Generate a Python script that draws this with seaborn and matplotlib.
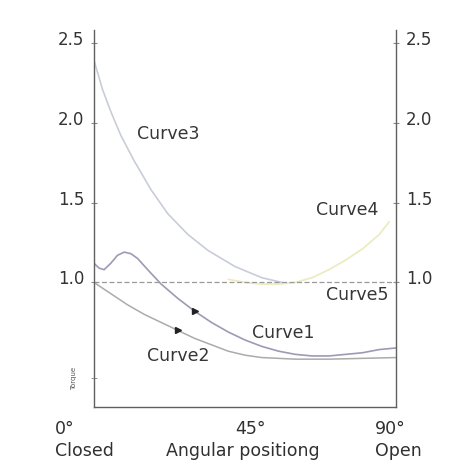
import numpy as np
import seaborn as sns
import matplotlib.pyplot as plt

# curve values (x in degrees, y torque ratio)
c1_x = [0, 1.5, 3, 5, 7, 9, 11, 13, 16, 20, 25, 30, 35, 40, 45, 50, 55, 60, 65, 70, 75, 80, 85, 90]
c1_y = [1.12, 1.09, 1.08, 1.12, 1.17, 1.19, 1.18, 1.15, 1.08, 0.99, 0.90, 0.82, 0.75, 0.69, 0.64, 0.60, 0.57, 0.55, 0.54, 0.54, 0.55, 0.56, 0.58, 0.59]
c2_x = [0, 5, 10, 15, 20, 25, 30, 35, 40, 45, 50, 55, 60, 70, 80, 90]
c2_y = [1.00, 0.93, 0.86, 0.80, 0.75, 0.70, 0.65, 0.61, 0.57, 0.545, 0.53, 0.525, 0.52, 0.52, 0.525, 0.53]
c3_x = [0, 2.5, 5, 8, 12, 17, 22, 28, 34, 42, 50, 56]
c3_y = [2.39, 2.21, 2.07, 1.92, 1.76, 1.58, 1.43, 1.30, 1.20, 1.10, 1.03, 1.00]
c4_x = [40, 45, 50, 55, 60, 65, 70, 75, 80, 85, 88]
c4_y = [1.02, 1.00, 0.99, 0.99, 1.00, 1.03, 1.08, 1.14, 1.21, 1.30, 1.38]
c5_x = [0, 90]
c5_y = [1.0, 1.0]
arrow_x = [30, 25]
arrow_y = [0.82, 0.70]

yticks = [1.0, 1.5, 2.0, 2.5]
x_top = ["0°", "45°", "90°"]
x_bottom = ["Closed", "Angular positiong", "Open"]

sns.set_style("white")
plt.rcParams['font.family'] = ['DejaVu Sans']

fig = plt.figure(figsize=(4.52, 4.69), dpi=100)
ax = fig.add_axes([0.208, 0.132, 0.668, 0.804])

sns.lineplot(x=c3_x, y=c3_y, ax=ax, color='#c9cdd9', lw=1.2, sort=False, estimator=None)
sns.lineplot(x=c4_x, y=c4_y, ax=ax, color='#ecebbd', lw=1.2, sort=False, estimator=None)
sns.lineplot(x=c5_x, y=c5_y, ax=ax, color='#9a9a9a', lw=0.9, ls=(0, (4, 2)), sort=False, estimator=None)
sns.lineplot(x=c1_x, y=c1_y, ax=ax, color='#9b9bb5', lw=1.2, sort=False, estimator=None)
sns.lineplot(x=c2_x, y=c2_y, ax=ax, color='#ababab', lw=1.1, sort=False, estimator=None)
ax.plot(arrow_x, arrow_y, ls='none', marker='>', ms=4, color='#222222')

ax.set_xlim(0, 90)
ax.set_ylim(0.22, 2.58)

for s in ['left', 'right', 'bottom']:
  ax.spines[s].set_color('#606060')
  ax.spines[s].set_linewidth(1.0)
ax.spines['top'].set_visible(False)

ax.set_yticks(yticks)
ax.set_yticklabels([f"{v:.1f}" for v in yticks])
ax.set_yticks([0.4], minor=True)
ax.tick_params(axis='y', which='major', left=True, right=True, labelleft=True, labelright=True,
               direction='inout', length=4, color='#888888', labelsize=12, labelcolor='#333333', pad=5)
ax.tick_params(axis='y', which='minor', left=True, right=False, direction='inout', length=4, color='#888888')
for lab in ax.get_yticklabels():
  lab.set_va('center_baseline')
  lab.set_y(lab.get_position()[1])

# nudge y tick labels upward a little, as in the reference
import matplotlib.transforms as mtransforms
offset = mtransforms.ScaledTranslation(0, 5 / 100, fig.dpi_scale_trans)
for lab in ax.get_yticklabels():
  lab.set_transform(lab.get_transform() + offset)

ax.set_xticks([])
ax.set_xlabel('')
ax.set_ylabel('Torque', fontsize=5, color='#555555')
ax.yaxis.set_label_coords(-0.056, 0.076)

trans = ax.get_xaxis_transform()
lab_kw = dict(fontsize=12.5, color='#303030', va='top', transform=trans)
ax.text(-11.6, -0.034, x_top[0], ha='left', **lab_kw)
ax.text(46.5, -0.034, x_top[1], ha='center', **lab_kw)
ax.text(83.7, -0.034, x_top[2], ha='left', **lab_kw)
ax.text(-11.6, -0.093, x_bottom[0], ha='left', **lab_kw)
ax.text(44.3, -0.093, x_bottom[1], ha='center', **lab_kw)
ax.text(83.7, -0.093, x_bottom[2], ha='left', **lab_kw)

txt = dict(fontsize=12.5, color='#363636', ha='center', va='center')
ax.text(22, 1.93, 'Curve3', **txt)
ax.text(75.4, 1.455, 'Curve4', **txt)
ax.text(78.4, 0.92, 'Curve5', **txt)
ax.text(56.3, 0.685, 'Curve1', **txt)
ax.text(25, 0.54, 'Curve2', **txt)

fig.savefig('out.png', dpi=100)
